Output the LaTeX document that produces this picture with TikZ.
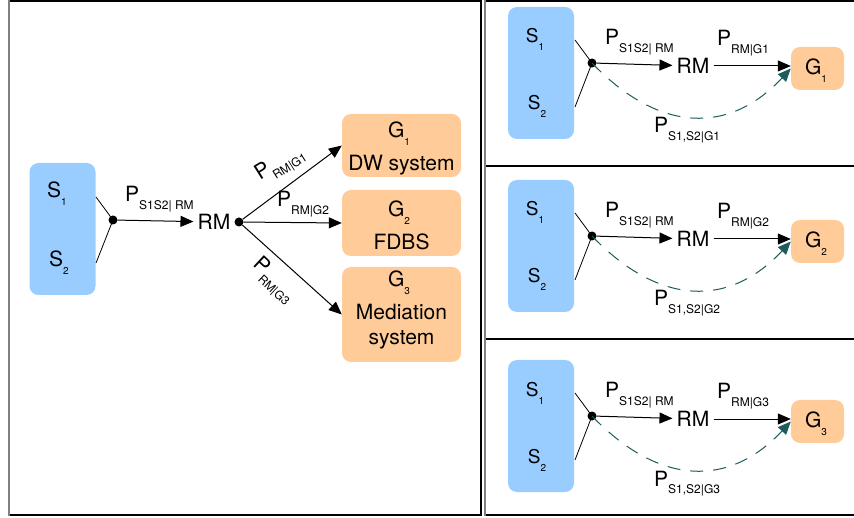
\documentclass[tikz,border=0pt]{standalone}
\usepackage{fontspec}
\setmainfont{TeX Gyre Heros}
\usetikzlibrary{positioning,arrows.meta}

\definecolor{srcblue}{HTML}{99CCFF}
\definecolor{goalorange}{HTML}{FFCC99}
\definecolor{pathteal}{HTML}{1D5C5A}

% P with a lowered subscript, and a letter with a lowered index
\newcommand{\plab}[1]{P\raisebox{-7.5pt}{\fontsize{12}{12}\selectfont #1}}
\newcommand{\idx}[2]{#1\raisebox{-8pt}{\fontsize{10}{10}\selectfont #2}}

\tikzset{
  srcbox/.style={fill=srcblue, rounded corners=9pt, minimum width=66pt, inner sep=0pt},
  goalbox/.style={fill=goalorange, rounded corners=9pt, inner sep=0pt},
  jdot/.style={circle, fill=black, inner sep=0pt, minimum size=9pt},
  flow/.style={-{Triangle[length=13pt,width=11pt]}, line width=1pt},
  direct/.style={-{Triangle[length=13pt,width=11pt]}, line width=1pt, pathteal, dash pattern=on 13pt off 10pt},
  bigtxt/.style={font=\fontsize{21}{21}\selectfont, inner sep=0pt},
  stxt/.style={font=\fontsize{21}{21}\selectfont, inner sep=0pt, anchor=base},
}

\begin{document}
\begin{tikzpicture}[x=1pt,y=-1pt]
\useasboundingbox (0,0) rectangle (854,518);

% frames
\draw[line width=1.2pt] (9,1) -- (481,1) -- (481,515) -- (9,515);
\draw[gray, line width=1.5pt] (9,0.5) -- (9,515.5);
\draw[line width=1.2pt] (485,1) -- (854,1) (485,166) -- (854,166)
  (485,339) -- (854,339) (485,515) -- (854,515);
\draw[gray, line width=1.5pt] (485,0.5) -- (485,515.5);

% left: all three goals
\node[srcbox, minimum height=132pt] (s) at (62.5,229) {};
\node[stxt] at (57,198) {\idx{S}{1}};
\node[stxt] at (59,267) {\idx{S}{2}};
\coordinate (s1x) at (96,197);
\coordinate (s2x) at (96,263);
\node[jdot] (j) at (113,220) {};
\draw[line width=0.8pt] (s1x) -- (j.center) -- (s2x);
\node[bigtxt, inner sep=4pt] (rm) at (214,222) {RM};
\node[jdot] (r) at (239,222) {};
\draw[flow] (j) -- (rm);
\node[bigtxt, anchor=base west] at (125,202) {\plab{S1S2| RM}};

\node[goalbox, minimum width=119pt, minimum height=63pt] (g1) at (401.5,145.5) {};
\node[goalbox, minimum width=119pt, minimum height=66pt] (g2) at (401.5,223) {};
\node[goalbox, minimum width=119pt, minimum height=95pt] (g3) at (401.5,314.5) {};
\node[stxt] at (399,138) {\idx{G}{1}};
\node[bigtxt, anchor=base] at (401.5,171) {DW system};
\node[stxt] at (399,217) {\idx{G}{2}};
\node[bigtxt, anchor=base] at (401.5,250) {FDBS};
\node[stxt] at (399,287) {\idx{G}{3}};
\node[bigtxt, anchor=base] at (401.5,320) {Mediation};
\node[bigtxt, anchor=base] at (401.5,345) {system};

\draw[flow] (r) -- (g1.west);
\draw[flow] (r) -- (g2.west);
\draw[flow] (r) -- (g3.west);
\node[bigtxt, anchor=base west, rotate=32] at (260,181) {\plab{RM|G1}};
\node[bigtxt, anchor=base west] at (277,207) {\plab{RM|G2}};
\node[bigtxt, anchor=base west, rotate=-43] at (252,265) {\plab{RM|G3}};

% right: one goal per panel
\foreach \dy/\k in {0/1,173/2,353/3}{
  \begin{scope}[shift={(0,\dy)}]
    \node[srcbox, minimum height=132pt] (s\k) at (541,73) {};
    \node[stxt, font=\fontsize{19}{19}\selectfont] at (535,43) {\idx{S}{1}};
    \node[stxt, font=\fontsize{19}{19}\selectfont] at (537,110) {\idx{S}{2}};
    \coordinate (a\k) at (575,40);
    \coordinate (b\k) at (575,107);
    \node[jdot] (j\k) at (592,63) {};
    \draw[line width=0.8pt] (a\k) -- (j\k.center) -- (b\k);
    \node[bigtxt, inner sep=4pt] (rm\k) at (693,66) {RM};
    \node[goalbox, minimum width=53pt, minimum height=43pt] (g\k) at (817.5,68.5) {};
    \node[stxt] at (816,75) {\idx{G}{\k}};
    \draw[flow] (j\k) -- (rm\k);
    \draw[flow] (rm\k.east) -- (rm\k.east -| g\k.west);
    \draw[direct] (j\k.center) .. controls (660,134) and (730,134) .. (g\k.west);
    \node[bigtxt, anchor=base west] at (605,45) {\plab{S1S2| RM}};
    \node[bigtxt, anchor=base west] at (717,46) {\plab{RM|G\k}};
    \node[bigtxt, anchor=base west] at (654,133) {\plab{S1,S2|G\k}};
  \end{scope}
}
\end{tikzpicture}
\end{document}
